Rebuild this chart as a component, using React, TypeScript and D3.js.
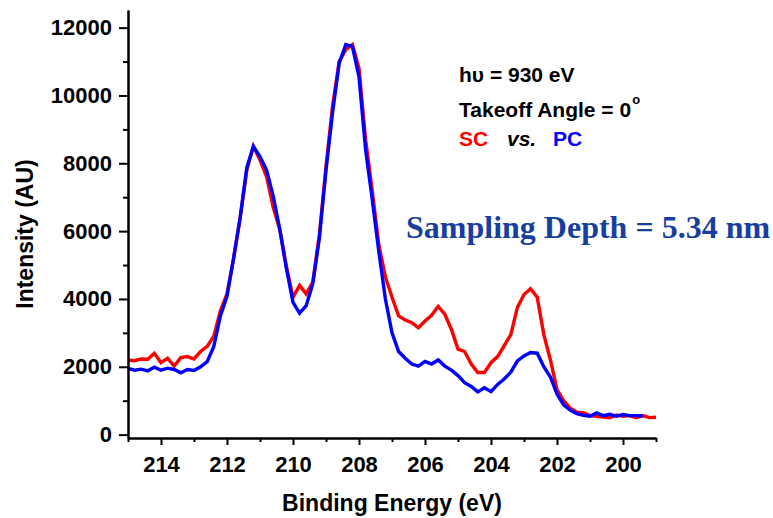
import React, { useEffect, useRef } from 'react';
import * as d3 from 'd3';

// binding energy grid (eV), 0.2 eV steps
const energies = [
  215.0, 214.8, 214.6, 214.4, 214.2, 214.0, 213.8, 213.6, 213.4, 213.2,
  213.0, 212.8, 212.6, 212.4, 212.2, 212.0, 211.8, 211.6, 211.4, 211.2,
  211.0, 210.8, 210.6, 210.4, 210.2, 210.0, 209.8, 209.6, 209.4, 209.2,
  209.0, 208.8, 208.6, 208.4, 208.2, 208.0, 207.8, 207.6, 207.4, 207.2,
  207.0, 206.8, 206.6, 206.4, 206.2, 206.0, 205.8, 205.6, 205.4, 205.2,
  205.0, 204.8, 204.6, 204.4, 204.2, 204.0, 203.8, 203.6, 203.4, 203.2,
  203.0, 202.8, 202.6, 202.4, 202.2, 202.0, 201.8, 201.6, 201.4, 201.2,
  201.0, 200.8, 200.6, 200.4, 200.2, 200.0, 199.8, 199.6, 199.4, 199.2,
  199.0,
];

// SC (red)
const scIntensity = [
  2200, 2180, 2230, 2220, 2400, 2120, 2250, 2020, 2270, 2300,
  2230, 2450, 2600, 2900, 3650, 4150, 5200, 6400, 7800, 8500,
  8100, 7600, 6700, 6050, 4950, 4050, 4400, 4150, 4500, 5900,
  7900, 9700, 11000, 11350, 11500, 10800, 8700, 7200, 5600, 4650,
  4050, 3500, 3380, 3300, 3150, 3350, 3520, 3780, 3550, 3100,
  2520, 2450, 2080, 1830, 1830, 2120, 2300, 2620, 2950, 3750,
  4130, 4300, 4050, 2950, 2200, 1330, 1000, 780, 660, 650,
  560, 540, 520, 500, 580, 540, 560, 500, 560, 500,
  510,
];

// PC (blue), ends at 199.4 eV
const pcIntensity = [
  1950, 1900, 1930, 1880, 1990, 1900, 1960, 1920, 1820, 1920,
  1890, 2000, 2150, 2600, 3500, 4080, 5200, 6400, 7870, 8500,
  8200, 7800, 7030, 6050, 4900, 3900, 3580, 3800, 4450, 5800,
  7800, 9500, 10950, 11500, 11450, 10550, 8400, 6950, 5400, 4000,
  3000, 2450, 2250, 2080, 2020, 2160, 2080, 2200, 2020, 1900,
  1740, 1530, 1420, 1260, 1380, 1270, 1480, 1640, 1840, 2170,
  2320, 2420, 2400, 2000, 1700, 1200, 880, 720, 620, 570,
  540, 640, 560, 600, 540, 590, 560, 560, 550,
];

const xMajor = [214, 212, 210, 208, 206, 204, 202, 200];
const xMinor = [215, 213, 211, 209, 207, 205, 203, 201, 199];
const yMajor = [0, 2000, 4000, 6000, 8000, 10000, 12000];
const yMinor = [1000, 3000, 5000, 7000, 9000, 11000];

const W = 773;
const H = 518;
const sans = '"Liberation Sans", Arial, sans-serif';
const serif = '"Liberation Serif", "Times New Roman", serif';

export default function App() {
  const ref = useRef<SVGSVGElement>(null);

  useEffect(() => {
    const svg = d3.select(ref.current);
    svg.selectAll('*').remove();

    const x = d3.scaleLinear().domain([215, 199]).range([128, 656]);
    const y = d3.scaleLinear().domain([-100, 12520]).range([438, 10]);

    const line = d3
      .line<number>()
      .x((d, i) => x(energies[i]))
      .y((d) => y(d));

    svg.append('path')
      .attr('d', line(scIntensity))
      .attr('fill', 'none')
      .attr('stroke', '#ff0000')
      .attr('stroke-width', 3.4);
    svg.append('path')
      .attr('d', line(pcIntensity))
      .attr('fill', 'none')
      .attr('stroke', '#0000ff')
      .attr('stroke-width', 3.4);

    const style = (g: any) => {
      g.selectAll('path, line').attr('stroke', '#000').attr('stroke-width', 2);
      g.selectAll('text')
        .attr('font-family', sans)
        .attr('font-weight', 'bold')
        .attr('font-size', 22)
        .attr('fill', '#000');
    };

    // x axis
    svg.append('g')
      .attr('transform', 'translate(0,438)')
      .call(d3.axisBottom(x).tickValues(xMinor).tickSize(4).tickSizeOuter(0).tickFormat(() => ''))
      .call(style);
    svg.append('g')
      .attr('transform', 'translate(0,438)')
      .call(d3.axisBottom(x).tickValues(xMajor).tickSize(7).tickSizeOuter(0).tickPadding(11).tickFormat(d3.format('d')))
      .call(style);

    // y axis
    svg.append('g')
      .attr('transform', 'translate(128,0)')
      .call(d3.axisLeft(y).tickValues(yMinor).tickSize(5).tickSizeOuter(0).tickFormat(() => ''))
      .call(style);
    svg.append('g')
      .attr('transform', 'translate(128,0)')
      .call(d3.axisLeft(y).tickValues(yMajor).tickSize(9).tickSizeOuter(0).tickPadding(7).tickFormat(d3.format('d')))
      .call(style);

    // axis titles
    svg.append('text')
      .attr('x', 392)
      .attr('y', 511)
      .attr('text-anchor', 'middle')
      .attr('font-family', sans)
      .attr('font-weight', 'bold')
      .attr('font-size', 23)
      .text('Binding Energy (eV)');
    svg.append('text')
      .attr('transform', 'translate(33,234) rotate(-90)')
      .attr('text-anchor', 'middle')
      .attr('font-family', sans)
      .attr('font-weight', 'bold')
      .attr('font-size', 23)
      .text('Intensity (AU)');

    // annotations
    const note = svg.append('g')
      .attr('font-family', sans)
      .attr('font-weight', 'bold')
      .attr('font-size', 21);
    note.append('text').attr('x', 459).attr('y', 82).text('h\u03c5 = 930 eV');
    const angle = note.append('text').attr('x', 459).attr('y', 117);
    angle.append('tspan').text('Takeoff Angle = 0');
    angle.append('tspan').attr('dx', 1).attr('dy', -13).attr('font-size', 13).text('o');
    const vs = note.append('text').attr('y', 146);
    vs.append('tspan').attr('x', 459).attr('fill', '#ff0000').text('SC');
    vs.append('tspan').attr('x', 507).attr('font-style', 'italic').text('vs.');
    vs.append('tspan').attr('x', 553).attr('fill', '#0000ff').text('PC');

    svg.append('text')
      .attr('x', 406)
      .attr('y', 238)
      .attr('font-family', serif)
      .attr('font-weight', 'bold')
      .attr('font-size', 32)
      .attr('fill', '#173f9f')
      .text('Sampling Depth = 5.34 nm');
  }, []);

  return (
    <svg
      ref={ref}
      width={W}
      height={H}
      style={{ position: 'absolute', left: 0, top: 0, background: '#fff' }}
    />
  );
}
